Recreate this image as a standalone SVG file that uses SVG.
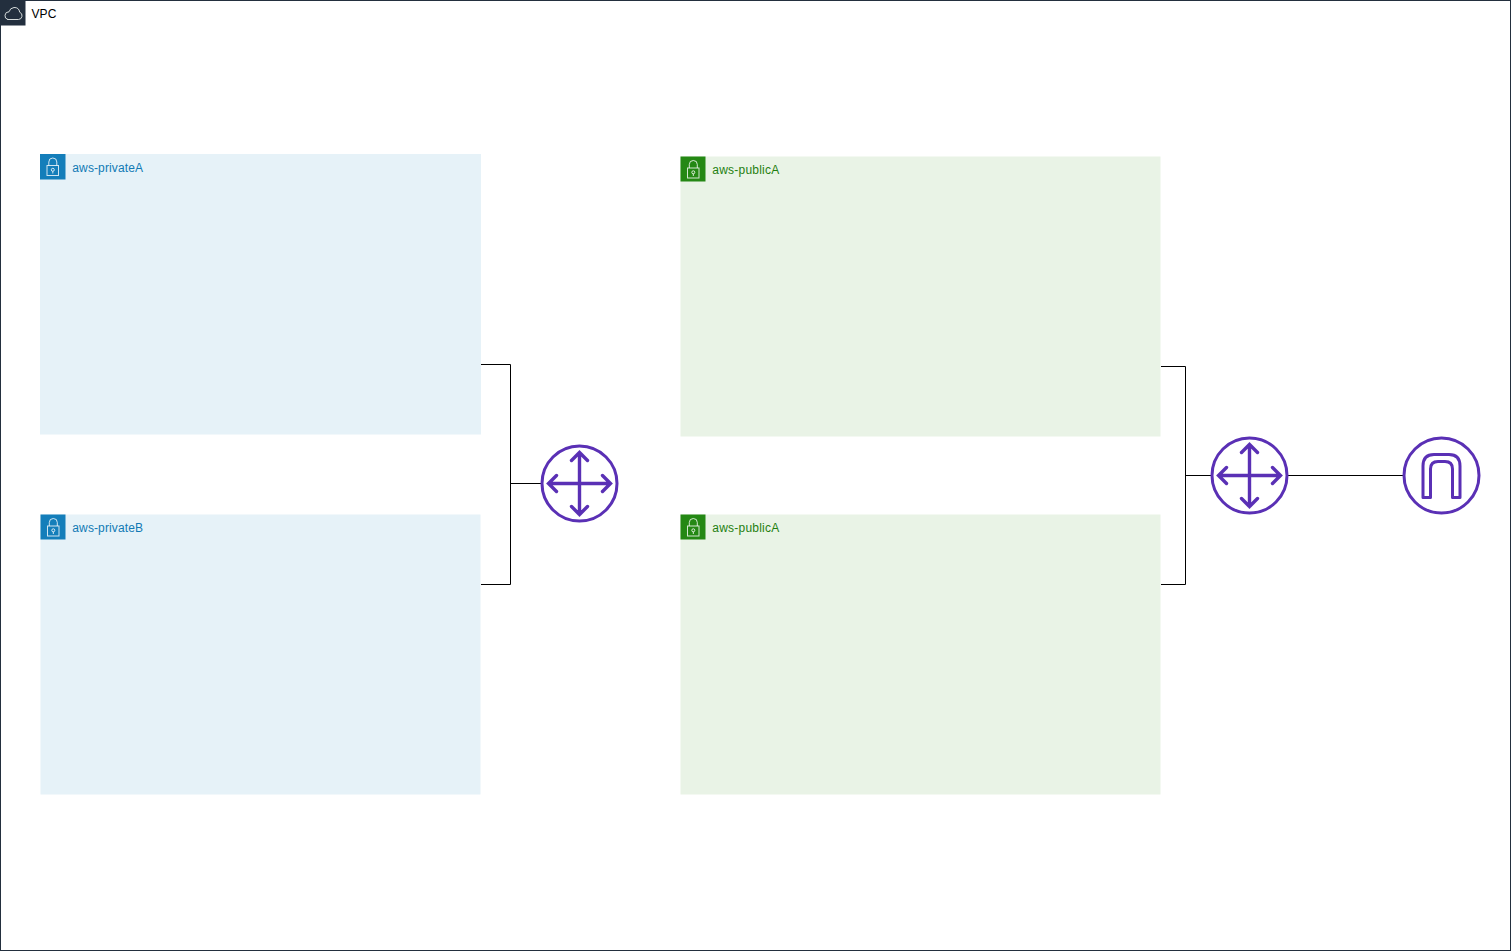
<svg xmlns="http://www.w3.org/2000/svg" width="1512" height="952" viewBox="0 0 1512 952">
<style>
text{font-family:"Liberation Sans",Arial,sans-serif;font-size:12px;letter-spacing:.12px}
.pubt{letter-spacing:.22px;fill:#1f8010}
.prit{fill:#117ab5}
.conn{fill:none;stroke:#000;stroke-width:1}
.pri{fill:#e6f2f8}
.pub{fill:#e9f3e6}
.ic{fill:none;stroke:#5a30b5;stroke-width:3;stroke-linecap:round;stroke-linejoin:round}
.ar{fill:none;stroke:#5a30b5;stroke-width:3.400;stroke-linecap:round;stroke-linejoin:miter}
.lk{fill:none;stroke:#fff;stroke-width:1;opacity:.8}
</style>
<defs>
<g id="lock"><rect x="7" y="11.500" width="11.500" height="10" class="lk"/><path d="M8.800 11.500V8a4 4 0 0 1 8 0V11.500" class="lk"/><circle cx="12.800" cy="15.800" r="1.500" class="lk"/><path d="M12.800 17.300V19.500" class="lk"/></g>
<g id="router"><circle cx="0" cy="0" r="37.500" class="ic"/><path d="M0-31V31M-31 0H31M-8-23L0-31L8-23M-8 23L0 31L8 23M-23-8L-31 0L-23 8M23-8L31 0L23 8" class="ar"/></g>
</defs>
<rect id="background" x="0" y="0" width="1512" height="952" fill="#fff"/>
<g id="vpc">
<rect x="0.500" y="0.500" width="1510" height="950" fill="#fff" stroke="#232f3e"/>
<rect x="0" y="0" width="25.500" height="25.500" fill="#232f3e"/>
<path d="M7.500 19.500H18.500a3.800 3.800 0 0 0 1.200-7.300a5.500 5.500 0 0 0-5.700-4.700a5.800 5.800 0 0 0-5 4.300a3.900 3.900 0 0 0-1 7.700z" fill="none" stroke="#d5dbdb" stroke-width="1"/>
<text x="31.500" y="18" fill="#000">VPC</text>
</g>
<g id="aws-privateA"><rect class="pri" x="40" y="154" width="441" height="280.500"/><rect x="40" y="154" width="25.500" height="25.500" fill="#147eba"/><use href="#lock" x="40" y="154"/><text class="prit" x="72.300" y="172">aws-privateA</text></g>
<g id="aws-privateB"><rect class="pri" x="40.500" y="514.500" width="440" height="280"/><rect x="40.500" y="514.500" width="25" height="25" fill="#147eba"/><use href="#lock" x="40.500" y="514.500"/><text class="prit" x="72.300" y="532">aws-privateB</text></g>
<g id="aws-publicA-1"><rect class="pub" x="680.500" y="156.500" width="480" height="280"/><rect x="680.500" y="156.500" width="25" height="25" fill="#248814"/><use href="#lock" x="680.500" y="156.500"/><text class="pubt" x="712.300" y="174">aws-publicA</text></g>
<g id="aws-publicA-2"><rect class="pub" x="680.500" y="514.500" width="480" height="280"/><rect x="680.500" y="514.500" width="25" height="25" fill="#248814"/><use href="#lock" x="680.500" y="514.500"/><text class="pubt" x="712.300" y="532">aws-publicA</text></g>
<g id="connectors">
<path class="conn" d="M481 364.500H510.500V584.500H481M510.500 483.500H541"/>
<path class="conn" d="M1161 366.500H1185.500V584.500H1161M1185.500 475.500H1211M1288 475.500H1403"/>
</g>
<g id="router-private"><use href="#router" x="579.500" y="483.500"/></g>
<g id="router-public"><use href="#router" x="1249.500" y="475.500"/></g>
<g id="internet-gateway"><circle cx="1441.500" cy="475.500" r="37.500" class="ic"/><path d="M1423 497.500V466Q1423 454.500 1434 454.500H1449Q1460 454.500 1460 466V497.500H1452.500V469Q1452.500 461.500 1445 461.500H1438Q1430.500 461.500 1430.500 469V497.500z" class="ic"/></g>
</svg>
